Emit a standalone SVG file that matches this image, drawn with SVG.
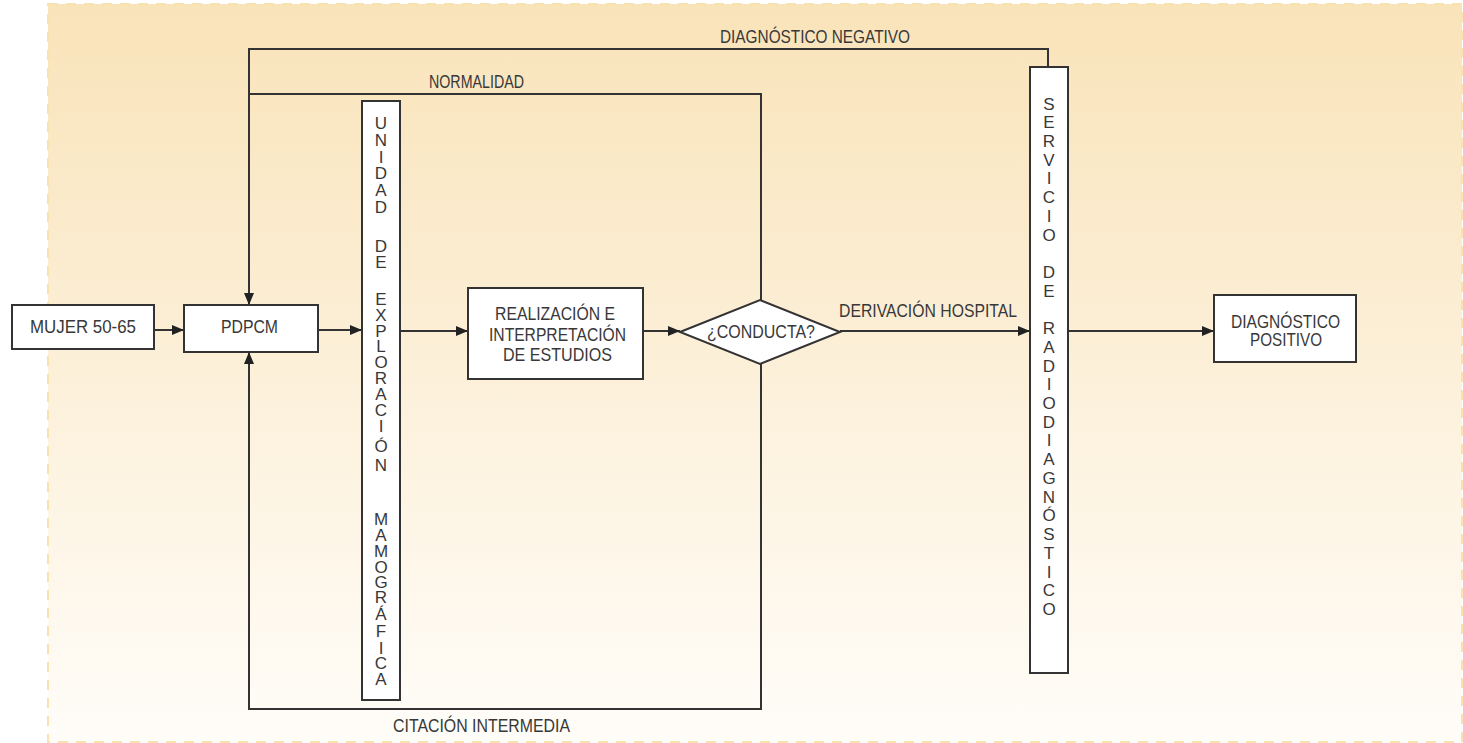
<svg xmlns="http://www.w3.org/2000/svg" width="1463" height="743" viewBox="0 0 1463 743">
<defs>
<linearGradient id="bg" x1="0" y1="0" x2="0" y2="1">
<stop offset="0" stop-color="#F9E3B9"/>
<stop offset="1" stop-color="#FFFDF9"/>
</linearGradient>
<marker id="arr" viewBox="0 0 12 10" refX="12" refY="5" markerWidth="12" markerHeight="10" markerUnits="userSpaceOnUse" orient="auto">
<path d="M0,0 L12,5 L0,10 Z" fill="#222"/>
</marker>
<style>
.box{fill:#fff;stroke:#333;stroke-width:2}
.ln{fill:none;stroke:#333;stroke-width:2}
.t{font-family:"Liberation Sans Narrow","Arial Narrow","Liberation Sans",Arial,sans-serif;font-size:18px;fill:#383838}
.v{font-family:"Liberation Sans Narrow","Arial Narrow","Liberation Sans",Arial,sans-serif;font-size:17px;fill:#383838;text-anchor:middle}
</style>
</defs>
<rect x="48" y="4" width="1414" height="738" fill="url(#bg)" stroke="#F8E2B0" stroke-width="2" stroke-dasharray="10 8"/>

<g id="connectors">
<line class="ln" x1="154" y1="330" x2="184" y2="330" marker-end="url(#arr)"/>
<line class="ln" x1="318" y1="330" x2="362" y2="330" marker-end="url(#arr)"/>
<line class="ln" x1="400" y1="331" x2="468" y2="331" marker-end="url(#arr)"/>
<line class="ln" x1="643" y1="331" x2="680" y2="331" marker-end="url(#arr)"/>
<line class="ln" x1="840" y1="331" x2="1030" y2="331" marker-end="url(#arr)"/>
<line class="ln" x1="1068" y1="331" x2="1214" y2="331" marker-end="url(#arr)"/>
<polyline class="ln" points="1048,67 1048,49 249,49 249,305" marker-end="url(#arr)"/>
<polyline class="ln" points="761,300 761,94 249,94"/>
<polyline class="ln" points="761,364 761,709 249,709 249,352" marker-end="url(#arr)"/>
<text class="t" x="720" y="43" textLength="190" lengthAdjust="spacingAndGlyphs">DIAGNÓSTICO NEGATIVO</text>
<text class="t" x="429" y="88" textLength="95" lengthAdjust="spacingAndGlyphs">NORMALIDAD</text>
<text class="t" x="839" y="317" textLength="178" lengthAdjust="spacingAndGlyphs">DERIVACIÓN HOSPITAL</text>
<text class="t" x="393" y="732" textLength="177" lengthAdjust="spacingAndGlyphs">CITACIÓN INTERMEDIA</text>
</g>

<g id="mujer">
<rect class="box" x="12" y="305" width="142" height="44"/>
<text class="t" x="30" y="333" textLength="106" lengthAdjust="spacingAndGlyphs">MUJER 50-65</text>
</g>

<g id="pdpcm">
<rect class="box" x="184" y="305" width="134" height="47"/>
<text class="t" x="221" y="333" textLength="57" lengthAdjust="spacingAndGlyphs">PDPCM</text>
</g>

<g id="unidad">
<rect class="box" x="362" y="101" width="38" height="599"/>
<text class="v"><tspan x="381" y="129">U</tspan><tspan x="381" y="146">N</tspan><tspan x="381" y="163">I</tspan><tspan x="381" y="179">D</tspan><tspan x="381" y="196">A</tspan><tspan x="381" y="213">D</tspan><tspan x="381" y="252">D</tspan><tspan x="381" y="268">E</tspan><tspan x="381" y="305">E</tspan><tspan x="381" y="321">X</tspan><tspan x="381" y="337">P</tspan><tspan x="381" y="352">L</tspan><tspan x="381" y="368">O</tspan><tspan x="381" y="384">R</tspan><tspan x="381" y="400">A</tspan><tspan x="381" y="416">C</tspan><tspan x="381" y="432">I</tspan><tspan x="381" y="452">Ó</tspan><tspan x="381" y="471">N</tspan><tspan x="381" y="525">M</tspan><tspan x="381" y="541">A</tspan><tspan x="381" y="557">M</tspan><tspan x="381" y="573">O</tspan><tspan x="381" y="588">G</tspan><tspan x="381" y="603">R</tspan><tspan x="381" y="620">Á</tspan><tspan x="381" y="637">F</tspan><tspan x="381" y="654">I</tspan><tspan x="381" y="669">C</tspan><tspan x="381" y="685">A</tspan></text>
</g>

<g id="realizacion">
<rect class="box" x="468" y="288" width="175" height="91"/>
<text class="t" x="495" y="320" textLength="120" lengthAdjust="spacingAndGlyphs">REALIZACIÓN E</text>
<text class="t" x="489" y="341" textLength="137" lengthAdjust="spacingAndGlyphs">INTERPRETACIÓN</text>
<text class="t" x="503" y="361" textLength="109" lengthAdjust="spacingAndGlyphs">DE ESTUDIOS</text>
</g>

<g id="conducta">
<polygon class="box" points="680,332 760,300 840,332 760,364"/>
<text class="t" x="707" y="338" textLength="108" lengthAdjust="spacingAndGlyphs">¿CONDUCTA?</text>
</g>

<g id="servicio">
<rect class="box" x="1030" y="67" width="38" height="606"/>
<text class="v"><tspan x="1049" y="110">S</tspan><tspan x="1049" y="128">E</tspan><tspan x="1049" y="147">R</tspan><tspan x="1049" y="166">V</tspan><tspan x="1049" y="184">I</tspan><tspan x="1049" y="203">C</tspan><tspan x="1049" y="222">I</tspan><tspan x="1049" y="241">O</tspan><tspan x="1049" y="278">D</tspan><tspan x="1049" y="297">E</tspan><tspan x="1049" y="334">R</tspan><tspan x="1049" y="353">A</tspan><tspan x="1049" y="372">D</tspan><tspan x="1049" y="390">I</tspan><tspan x="1049" y="409">O</tspan><tspan x="1049" y="428">D</tspan><tspan x="1049" y="446">I</tspan><tspan x="1049" y="465">A</tspan><tspan x="1049" y="484">G</tspan><tspan x="1049" y="503">N</tspan><tspan x="1049" y="521">Ó</tspan><tspan x="1049" y="540">S</tspan><tspan x="1049" y="559">T</tspan><tspan x="1049" y="578">I</tspan><tspan x="1049" y="596">C</tspan><tspan x="1049" y="615">O</tspan></text>
</g>

<g id="diagnostico-positivo">
<rect class="box" x="1214" y="295" width="142" height="67"/>
<text class="t" x="1231" y="328" textLength="109" lengthAdjust="spacingAndGlyphs">DIAGNÓSTICO</text>
<text class="t" x="1250" y="346" textLength="72" lengthAdjust="spacingAndGlyphs">POSITIVO</text>
</g>
</svg>
